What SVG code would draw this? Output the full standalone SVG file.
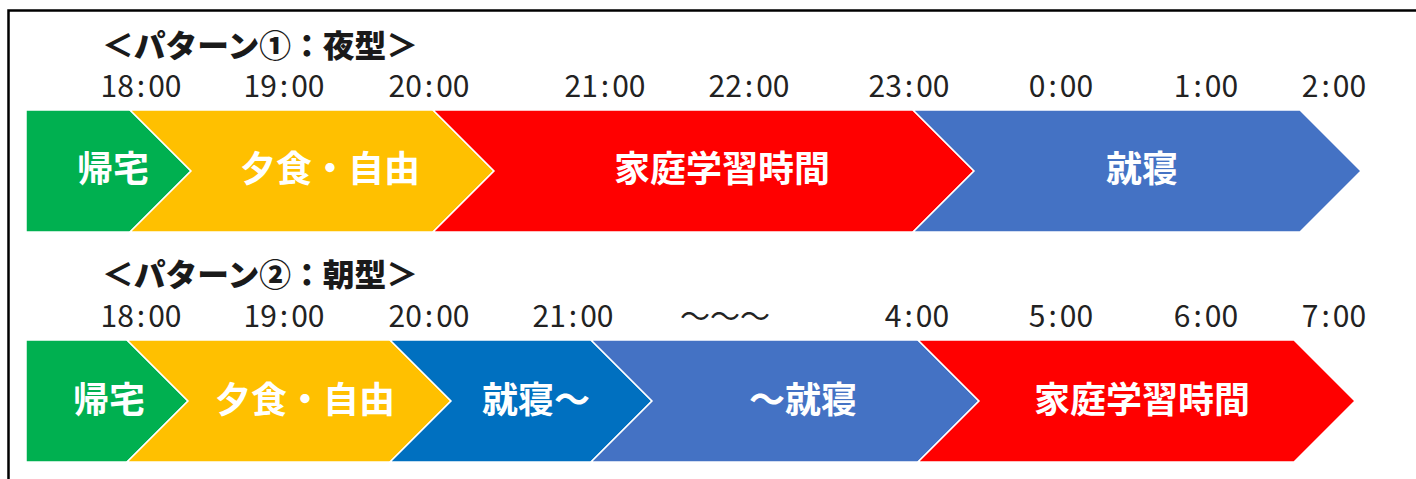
<svg xmlns="http://www.w3.org/2000/svg" width="1416" height="479" viewBox="0 0 1416 479">
<style>
.frame{fill:none;stroke:#000;stroke-width:2.5}
.seg{stroke:#fff;stroke-width:1.5;stroke-linejoin:miter}
.g{fill:#00B050}.y{fill:#FFC000}.r{fill:#FF0000}.b{fill:#4472C4}.d{fill:#0070C0}
.title{font-family:"Noto Sans CJK JP","Noto Sans",sans-serif;font-weight:900;font-size:31px;fill:#1a1a1a}
.time{font-family:"Noto Sans CJK JP","Noto Sans",sans-serif;font-size:30px;fill:#222;text-anchor:middle}
.lbl{font-family:"Noto Sans CJK JP","Noto Sans",sans-serif;font-weight:700;font-size:36px;fill:#fff;text-anchor:middle}
</style>
<rect class="frame" x="8.5" y="10.5" width="1420" height="480"/>
<g id="title1"><text class="title" x="102" y="57" textLength="316" lengthAdjust="spacingAndGlyphs">＜パターン①：夜型＞</text></g>
<g id="times1">
<text class="time" x="141" y="97">18<tspan dx="3">:</tspan><tspan dx="3">00</tspan></text>
<text class="time" x="284" y="97">19<tspan dx="3">:</tspan><tspan dx="3">00</tspan></text>
<text class="time" x="429" y="97">20<tspan dx="3">:</tspan><tspan dx="3">00</tspan></text>
<text class="time" x="605" y="97">21<tspan dx="3">:</tspan><tspan dx="3">00</tspan></text>
<text class="time" x="749" y="97">22<tspan dx="3">:</tspan><tspan dx="3">00</tspan></text>
<text class="time" x="909" y="97">23<tspan dx="3">:</tspan><tspan dx="3">00</tspan></text>
<text class="time" x="1061" y="97">0<tspan dx="3">:</tspan><tspan dx="3">00</tspan></text>
<text class="time" x="1206" y="97">1<tspan dx="3">:</tspan><tspan dx="3">00</tspan></text>
<text class="time" x="1334" y="97">2<tspan dx="3">:</tspan><tspan dx="3">00</tspan></text>
</g>
<g id="p1-kitaku"><polygon class="seg g" points="26,110 130,110 191,171 130,232 26,232"/><text class="lbl" x="113" y="182">帰宅</text></g>
<g id="p1-yushoku"><polygon class="seg y" points="130,110 433,110 494,171 433,232 130,232 191,171"/><text class="lbl" x="330" y="182">夕食・自由</text></g>
<g id="p1-gakushu"><polygon class="seg r" points="433,110 913,110 974,171 913,232 433,232 494,171"/><text class="lbl" x="722" y="182">家庭学習時間</text></g>
<g id="p1-shushin"><polygon class="seg b" points="913,110 1300,110 1361,171 1300,232 913,232 974,171"/><text class="lbl" x="1142" y="182">就寝</text></g>
<g id="title2"><text class="title" x="102" y="286" textLength="316" lengthAdjust="spacingAndGlyphs">＜パターン②：朝型＞</text></g>
<g id="times2">
<text class="time" x="141" y="327">18<tspan dx="3">:</tspan><tspan dx="3">00</tspan></text>
<text class="time" x="284" y="327">19<tspan dx="3">:</tspan><tspan dx="3">00</tspan></text>
<text class="time" x="429" y="327">20<tspan dx="3">:</tspan><tspan dx="3">00</tspan></text>
<text class="time" x="573" y="327">21<tspan dx="3">:</tspan><tspan dx="3">00</tspan></text>
<text class="time" x="725" y="327" textLength="90" lengthAdjust="spacingAndGlyphs">～～～</text>
<text class="time" x="917" y="327">4<tspan dx="3">:</tspan><tspan dx="3">00</tspan></text>
<text class="time" x="1061" y="327">5<tspan dx="3">:</tspan><tspan dx="3">00</tspan></text>
<text class="time" x="1206" y="327">6<tspan dx="3">:</tspan><tspan dx="3">00</tspan></text>
<text class="time" x="1334" y="327">7<tspan dx="3">:</tspan><tspan dx="3">00</tspan></text>
</g>
<g id="p2-kitaku"><polygon class="seg g" points="26,340 127,340 188,401 127,462 26,462"/><text class="lbl" x="109" y="413">帰宅</text></g>
<g id="p2-yushoku"><polygon class="seg y" points="127,340 390,340 451,401 390,462 127,462 188,401"/><text class="lbl" x="305" y="413">夕食・自由</text></g>
<g id="p2-shushin1"><polygon class="seg d" points="390,340 591,340 652,401 591,462 390,462 451,401"/><text class="lbl" x="536" y="413">就寝～</text></g>
<g id="p2-shushin2"><polygon class="seg b" points="591,340 918,340 979,401 918,462 591,462 652,401"/><text class="lbl" x="803" y="413">～就寝</text></g>
<g id="p2-gakushu"><polygon class="seg r" points="918,340 1294,340 1355,401 1294,462 918,462 979,401"/><text class="lbl" x="1142" y="413">家庭学習時間</text></g>
<g id="connectors"/>
</svg>
